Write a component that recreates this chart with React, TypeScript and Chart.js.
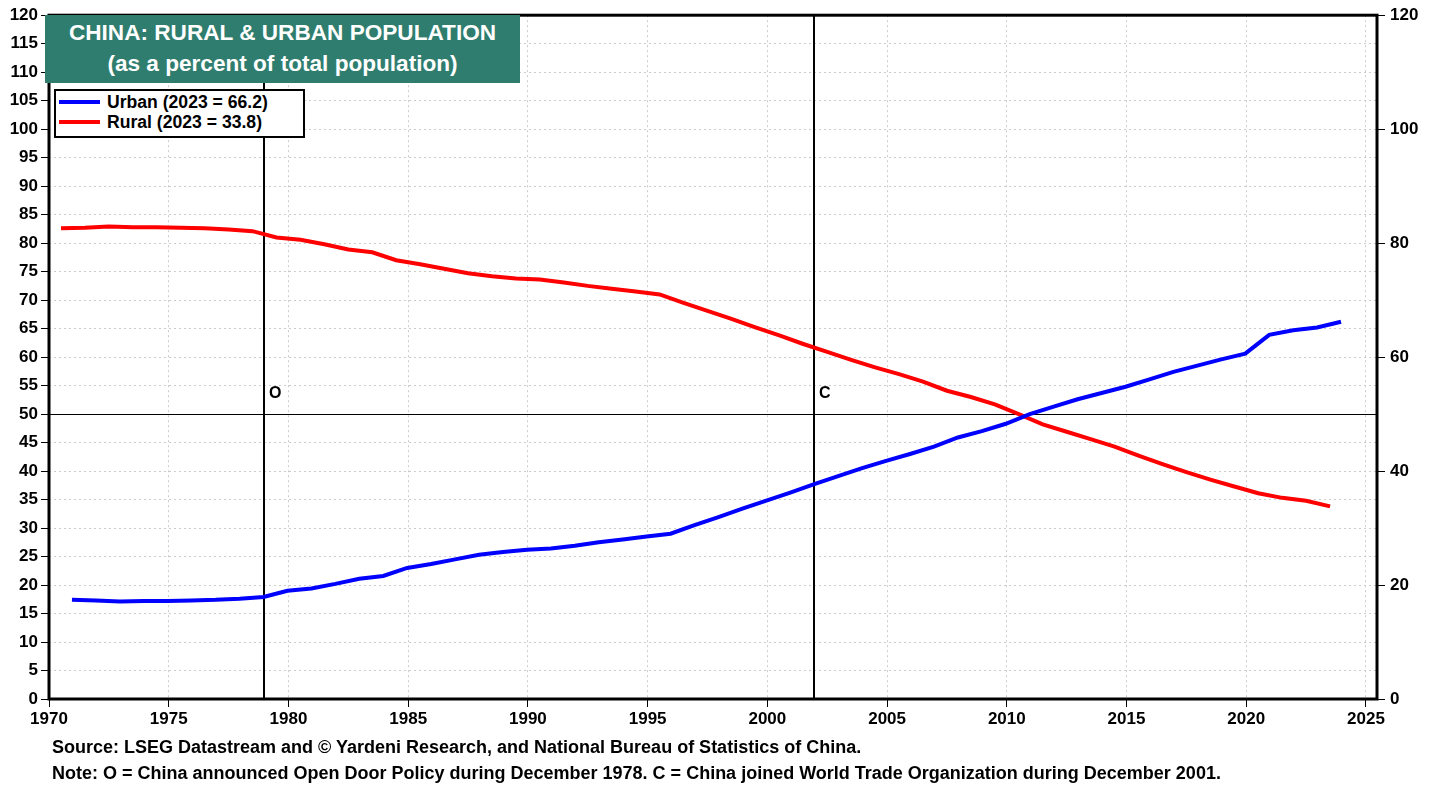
import React, { useEffect, useRef } from "react";
import { Chart, registerables } from "chart.js";

Chart.register(...registerables);

// ---- Data (percent of total population) ----
const years = [
  1970, 1971, 1972, 1973, 1974, 1975, 1976, 1977, 1978, 1979,
  1980, 1981, 1982, 1983, 1984, 1985, 1986, 1987, 1988, 1989,
  1990, 1991, 1992, 1993, 1994, 1995, 1996, 1997, 1998, 1999,
  2000, 2001, 2002, 2003, 2004, 2005, 2006, 2007, 2008, 2009,
  2010, 2011, 2012, 2013, 2014, 2015, 2016, 2017, 2018, 2019,
  2020, 2021, 2022, 2023,
];

const urbanPct = [
  17.4, 17.3, 17.1, 17.2, 17.2, 17.3, 17.4, 17.6, 17.9, 19.0,
  19.4, 20.2, 21.1, 21.6, 23.0, 23.7, 24.5, 25.3, 25.8, 26.2,
  26.4, 26.9, 27.5, 28.0, 28.5, 29.0, 30.5, 31.9, 33.4, 34.8,
  36.2, 37.7, 39.1, 40.5, 41.8, 43.0, 44.3, 45.9, 47.0, 48.3,
  50.0, 51.3, 52.6, 53.7, 54.8, 56.1, 57.4, 58.5, 59.6, 60.6,
  63.9, 64.7, 65.2, 66.2,
];

const ruralPct = [
  82.6, 82.7, 82.9, 82.8, 82.8, 82.7, 82.6, 82.4, 82.1, 81.0,
  80.6, 79.8, 78.9, 78.4, 77.0, 76.3, 75.5, 74.7, 74.2, 73.8,
  73.6, 73.1, 72.5, 72.0, 71.5, 71.0, 69.5, 68.1, 66.7, 65.2,
  63.8, 62.3, 60.9, 59.5, 58.2, 57.0, 55.7, 54.1, 53.0, 51.7,
  50.0, 48.2, 46.9, 45.6, 44.3, 42.7, 41.2, 39.8, 38.5, 37.3,
  36.1, 35.3, 34.8, 33.8,
];

// urban observations dated December, rural observations dated mid-year
const urbanDateOffset = 11.5 / 12;
const ruralDateOffset = 0.5;

const xTickYears = [1970, 1975, 1980, 1985, 1990, 1995, 2000, 2005, 2010, 2015, 2020, 2025];
const xMin = 1970;
const xMax = 2025.46;

// events: December 1978 (Open Door), December 2001 (WTO)
const eventDates = [1978 + 11.5 / 12, 2001 + 11.5 / 12];
const eventLabels = ["O", "C"];
const eventLabelLevel = 53.6;
const referenceLevel = 50;

const FONT = '"Liberation Sans", Arial, Helvetica, sans-serif';

const annotationPlugin = {
  id: "annotations",
  beforeDatasetsDraw(chart: any) {
    const { ctx, chartArea, scales } = chart;
    const { left, right, top, bottom } = chartArea;
    const x = scales.x;
    const y = scales.y;
    ctx.save();
    // 50% reference line
    const y50 = Math.round(y.getPixelForValue(referenceLevel)) + 0.5;
    ctx.strokeStyle = "#000";
    ctx.lineWidth = 1;
    ctx.beginPath();
    ctx.moveTo(left, y50);
    ctx.lineTo(right, y50);
    ctx.stroke();
    // event lines
    ctx.lineWidth = 2;
    ctx.font = `bold 16px ${FONT}`;
    ctx.fillStyle = "#000";
    ctx.textBaseline = "middle";
    ctx.textAlign = "left";
    eventDates.forEach((d, i) => {
      const px = Math.round(x.getPixelForValue(d));
      ctx.beginPath();
      ctx.moveTo(px, top);
      ctx.lineTo(px, bottom);
      ctx.stroke();
      ctx.fillText(eventLabels[i], px + 5, y.getPixelForValue(eventLabelLevel));
    });
    ctx.restore();
  },
  afterDraw(chart: any) {
    const { ctx, chartArea } = chart;
    const { left, right, top, bottom } = chartArea;
    ctx.save();
    ctx.strokeStyle = "#000";
    ctx.lineWidth = 3;
    ctx.strokeRect(left, top, right - left, bottom - top);
    ctx.restore();
  },
};

export default function App() {
  const canvasRef = useRef<HTMLCanvasElement | null>(null);

  useEffect(() => {
    const canvas = canvasRef.current;
    if (!canvas) return;
    const urbanData = years.map((yr, i) => ({ x: yr + urbanDateOffset, y: urbanPct[i] }));
    const ruralData = years.map((yr, i) => ({ x: yr + ruralDateOffset, y: ruralPct[i] }));

    const gridCommon = {
      color: "#cccccc",
      lineWidth: 1,
      borderDash: [2, 3],
      tickBorderDash: [],
      tickColor: "#000",
      tickLength: 8,
      tickWidth: 1,
    };
    const tickFont = { family: FONT, size: 17, weight: "bold" as const };

    const chart = new Chart(canvas, {
      type: "line",
      data: {
        datasets: [
          {
            label: "Urban (2023 = 66.2)",
            data: urbanData,
            borderColor: "#0000ff",
            backgroundColor: "#0000ff",
            borderWidth: 4,
            pointRadius: 0,
            tension: 0,
            yAxisID: "y",
          },
          {
            label: "Rural (2023 = 33.8)",
            data: ruralData,
            borderColor: "#ff0000",
            backgroundColor: "#ff0000",
            borderWidth: 4,
            pointRadius: 0,
            tension: 0,
            yAxisID: "y",
          },
        ],
      },
      options: {
        responsive: false,
        animation: false,
        devicePixelRatio: 1,
        layout: { padding: { top: 15, right: 0, bottom: 0, left: 0 } },
        plugins: {
          legend: { display: false },
          title: { display: false },
          tooltip: { enabled: false },
        },
        scales: {
          x: {
            type: "linear",
            min: xMin,
            max: xMax,
            afterBuildTicks: (scale: any) => {
              scale.ticks = xTickYears.map((v) => ({ value: v }));
            },
            afterFit: (scale: any) => {
              scale.height = 88;
            },
            ticks: {
              autoSkip: false,
              maxRotation: 0,
              padding: 2,
              color: "#000",
              font: tickFont,
              callback: (v: any) => String(v),
            },
            grid: { ...gridCommon },
            border: { display: false, dash: [2, 3] },
          },
          y: {
            position: "left",
            min: 0,
            max: 120,
            afterFit: (scale: any) => {
              scale.width = 49;
            },
            ticks: {
              stepSize: 5,
              autoSkip: false,
              padding: 3,
              color: "#000",
              font: tickFont,
            },
            grid: { ...gridCommon },
            border: { display: false, dash: [2, 3] },
          },
          y2: {
            position: "right",
            min: 0,
            max: 120,
            afterFit: (scale: any) => {
              scale.width = 61;
            },
            ticks: {
              stepSize: 20,
              autoSkip: false,
              padding: 5,
              color: "#000",
              font: tickFont,
            },
            grid: {
              drawOnChartArea: false,
              tickColor: "#000",
              tickLength: 8,
              tickWidth: 1,
            },
            border: { display: false },
          },
        },
      },
      plugins: [annotationPlugin],
    });
    return () => chart.destroy();
  }, []);

  const text = { fontFamily: FONT, fontWeight: "bold" as const, color: "#000", whiteSpace: "nowrap" as const };

  return (
    <div style={{ position: "fixed", left: 0, top: 0, width: 1438, height: 787, background: "#fff", overflow: "hidden" }}>
      <canvas ref={canvasRef} width={1438} height={787} style={{ position: "absolute", left: 0, top: 0, width: 1438, height: 787 }} />
      {/* Title box */}
      <div
        style={{
          position: "absolute",
          left: 45,
          top: 15,
          width: 475,
          height: 68,
          background: "#2f7d6e",
          color: "#fff",
          fontFamily: FONT,
          fontWeight: "bold",
          fontSize: 22.6,
          textAlign: "center",
          lineHeight: "31px",
          paddingTop: 2,
          boxSizing: "border-box",
          whiteSpace: "nowrap",
        }}
      >
        <div>CHINA: RURAL &amp; URBAN POPULATION</div>
        <div>(as a percent of total population)</div>
      </div>
      {/* Legend box */}
      <div
        style={{
          position: "absolute",
          left: 54,
          top: 89,
          width: 251,
          height: 49,
          border: "2px solid #000",
          background: "#fff",
          boxSizing: "border-box",
        }}
      />
      <div style={{ position: "absolute", left: 59, top: 100, width: 41, height: 4, background: "#0000ff" }} />
      <div style={{ position: "absolute", left: 59, top: 120, width: 41, height: 4, background: "#ff0000" }} />
      <div style={{ ...text, position: "absolute", left: 107, top: 92, fontSize: 17.6, lineHeight: "20px" }}>Urban (2023 = 66.2)</div>
      <div style={{ ...text, position: "absolute", left: 107, top: 112, fontSize: 17.6, lineHeight: "20px" }}>Rural (2023 = 33.8)</div>
      {/* Footer notes */}
      <div style={{ ...text, position: "absolute", left: 52, top: 737, fontSize: 18, lineHeight: "20px" }}>
        Source: LSEG Datastream and © Yardeni Research, and National Bureau of Statistics of China.
      </div>
      <div style={{ ...text, position: "absolute", left: 52, top: 763, fontSize: 18, lineHeight: "20px" }}>
        Note: O = China announced Open Door Policy during December 1978. C = China joined World Trade Organization during December 2001.
      </div>
    </div>
  );
}
